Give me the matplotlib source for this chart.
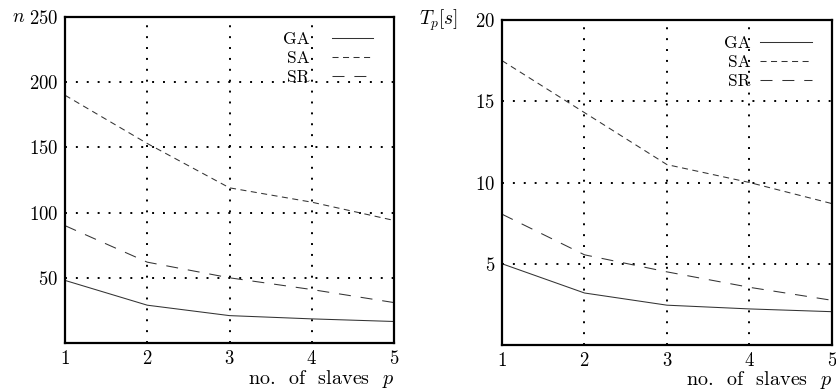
import matplotlib
matplotlib.use("Agg")
import matplotlib.pyplot as plt

plt.rcParams["font.family"] = ["cmr10", "DejaVu Serif"]
plt.rcParams["mathtext.fontset"] = "cm"
plt.rcParams["axes.formatter.use_mathtext"] = True

# data
slaves = [1, 2, 3, 4, 5]

n_ga = [48, 29, 21, 18.5, 16.5]
n_sa = [190, 153, 119, 108, 94]
n_sr = [90, 62, 50, 41, 31]

t_ga = [5.0, 3.2, 2.45, 2.22, 2.05]
t_sa = [17.5, 14.3, 11.1, 10.0, 8.7]
t_sr = [8.05, 5.55, 4.5, 3.55, 2.75]

series_names = ["GA", "SA", "SR"]
dash_styles = ["-", (0, (5.8, 4.3)), (0, (11.5, 9.5))]

n_ticks = [50, 100, 150, 200, 250]
t_ticks = [5, 10, 15, 20]

fig = plt.figure(figsize=(8.37, 3.91), dpi=100)
ax1 = fig.add_axes([65 / 837, 1 - 343 / 391, 329 / 837, 326 / 391])
ax2 = fig.add_axes([502 / 837, 1 - 345 / 391, 330 / 837, 325 / 391])


def setup(ax, data, ymax, yticks, ylabel, lab_x, leg_xy, hlen, hpad, lpad):
    for vals, name, ls in zip(data, series_names, dash_styles):
        ax.plot(slaves, vals, color="#333333", lw=0.75, ls=ls, label=name)
    ax.set_xlim(1, 5)
    ax.set_ylim(0, ymax)
    ax.set_xticks(slaves)
    ax.set_yticks(yticks)
    ax.tick_params(length=0, labelsize=13.5, pad=5)
    ax.grid(True, color="black", lw=1.4, ls=(0, (1, 4.6)))
    for s in ax.spines.values():
        s.set_linewidth(1.6)
    ax.set_xlabel("no.  of  slaves  $p$", loc="right", fontsize=14.5,
                  labelpad=lpad)
    ax.text(lab_x, 1.0, ylabel, transform=ax.transAxes, fontsize=14,
            ha="left", va="center")
    leg = ax.legend(loc="upper right", bbox_to_anchor=leg_xy,
                    frameon=False, markerfirst=False, fontsize=12.5,
                    handlelength=hlen, handletextpad=hpad, labelspacing=0.22,
                    borderpad=0, borderaxespad=0)
    for t in leg.get_texts():
        t.set_ha("right")


setup(ax1, [n_ga, n_sa, n_sr], 250, n_ticks, "$n$", -0.16,
      (0.936, 0.955), 2.35, 1.3, 0)
setup(ax2, [t_ga, t_sa, t_sr], 20, t_ticks, "$T_p[s]$", -0.25,
      (0.939, 0.952), 3.0, 0.55, -0.5)

fig.savefig("out.png", dpi=100)
